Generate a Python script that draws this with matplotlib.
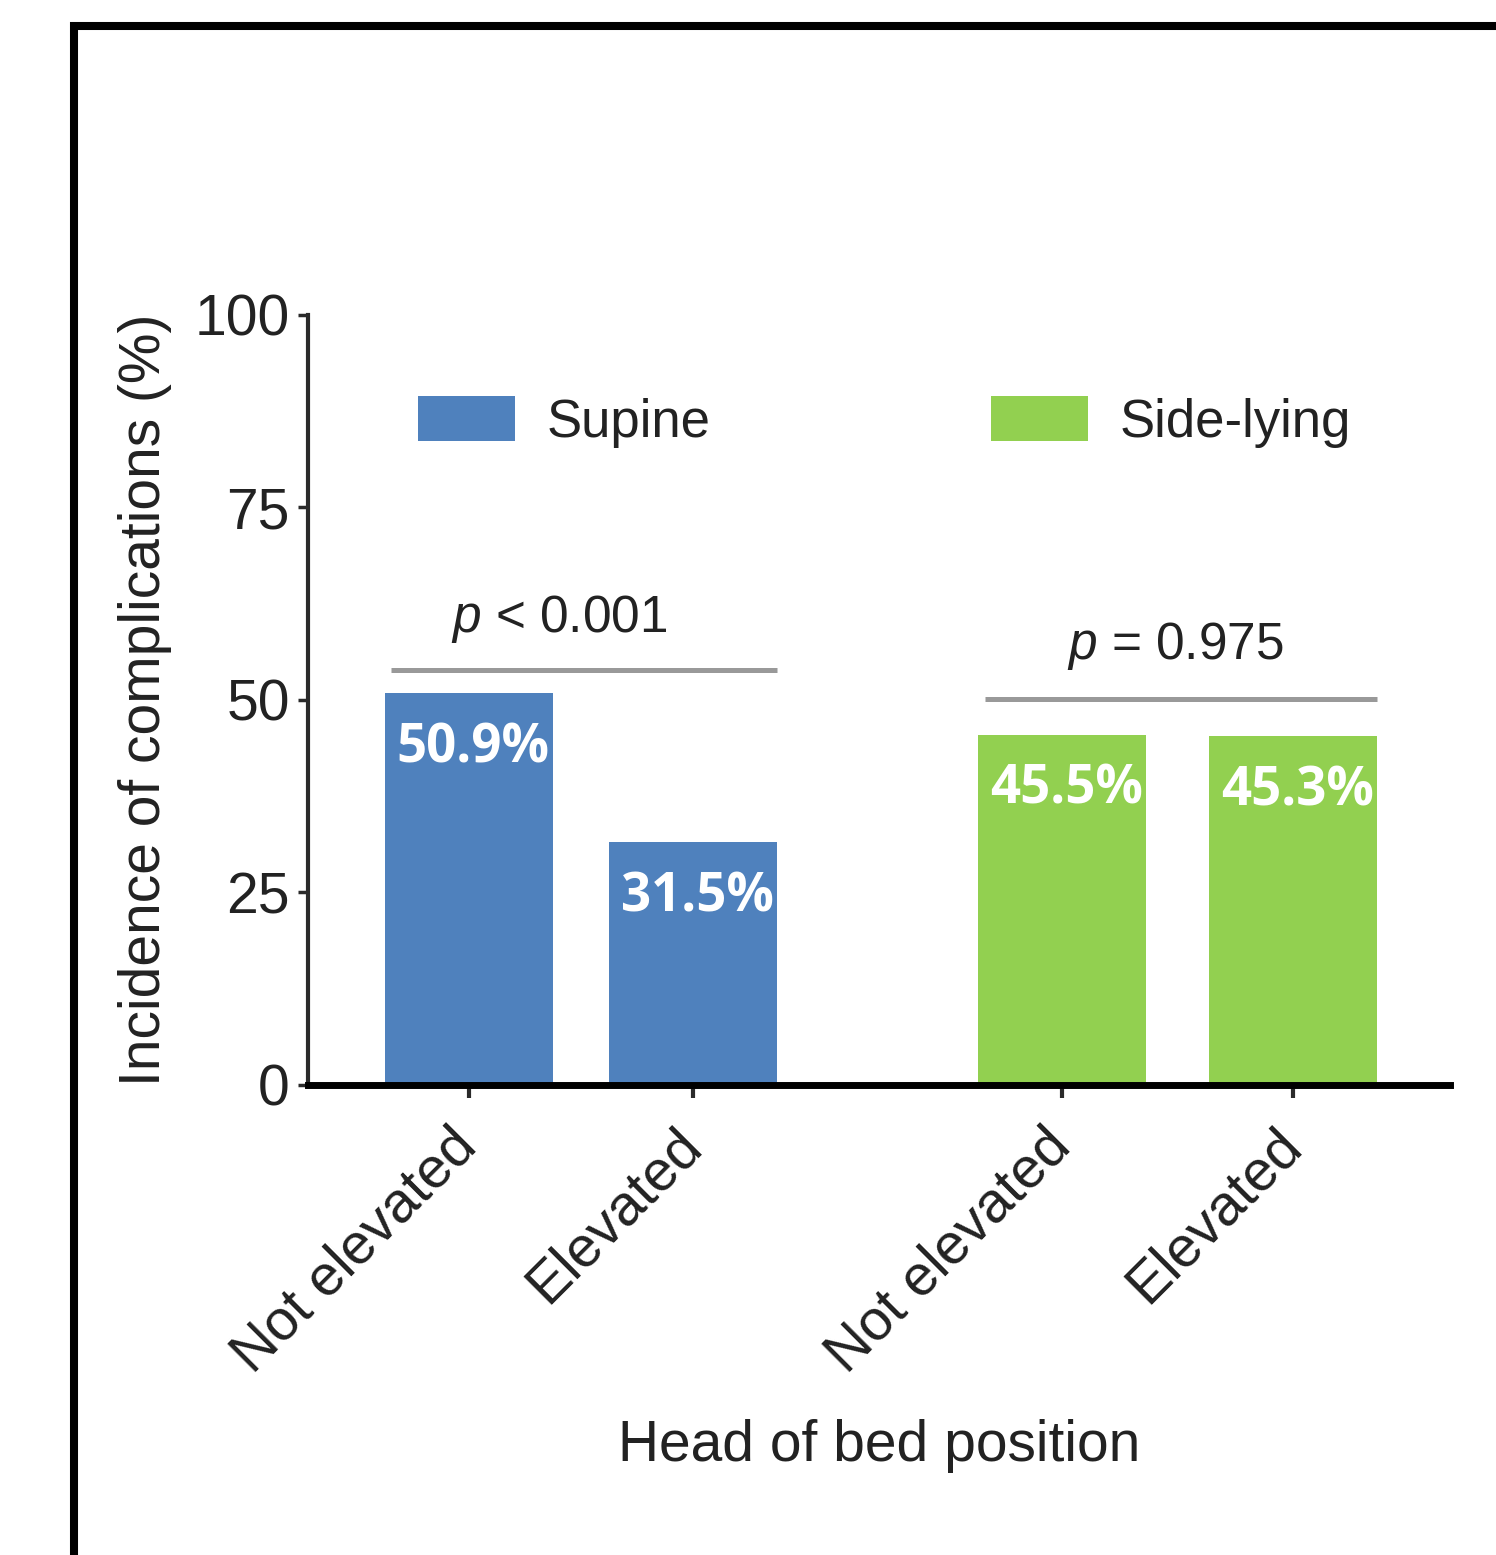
import matplotlib
matplotlib.use("Agg")
import matplotlib.pyplot as plt
from matplotlib.lines import Line2D

plt.rcParams['font.family'] = ['Liberation Sans', 'DejaVu Sans']
plt.rcParams['mathtext.fontset'] = 'custom'
plt.rcParams['mathtext.it'] = 'Liberation Sans:italic'
plt.rcParams['mathtext.rm'] = 'Liberation Sans'

# data
groups = ['Supine', 'Side-lying']
categories = ['Not elevated', 'Elevated', 'Not elevated', 'Elevated']
values = [50.9, 31.5, 45.5, 45.3]
value_labels = ['50.9%', '31.5%', '45.5%', '45.3%']
p_texts = ['$p$ < 0.001', '$p$ = 0.975']
yticks = [0, 25, 50, 75, 100]

positions = [0, 1, 2.65, 3.68]
colors = ['#4F81BD', '#4F81BD', '#92D050', '#92D050']
width = 0.75

fig = plt.figure(figsize=(14.96, 15.55), dpi=100)
ax = fig.add_axes([0.2059, 0.3023, 0.7634, 0.4952])

bars = ax.bar(positions, values, width=width, color=colors, edgecolor='none')

for x, v, lab in zip(positions, values, value_labels):
    ax.text(x + 0.02, v - 7.2, lab, ha='center', va='center', color='white',
            fontsize=38, fontweight='bold', family='Open Sans')

# significance brackets
sig_y = [53.9, 50.1]
txt_y = [58.8, 55.3]
txt_dx = [-0.095, -0.012]
for g in range(2):
    x0 = positions[2 * g] - width / 2
    x1 = positions[2 * g + 1] + width / 2
    ax.plot([x0 + 0.03, x1], [sig_y[g], sig_y[g]], color='#999999', lw=3.6,
            solid_capstyle='butt')
    ax.text((x0 + x1) / 2 + txt_dx[g], txt_y[g], p_texts[g], ha='center',
            va='baseline', fontsize=37, color='#222222')

ax.set_xlim(-0.717, 4.38)
ax.set_ylim(0, 100)
ax.set_yticks(yticks)
ax.set_xticks(positions)
ax.set_xticklabels(categories, rotation=45, ha='right', va='center',
                   rotation_mode='anchor')

ax.spines['top'].set_visible(False)
ax.spines['right'].set_visible(False)
ax.spines['left'].set_linewidth(3)
ax.spines['left'].set_color('#2a2a2a')
ax.spines['bottom'].set_linewidth(5)
ax.spines['bottom'].set_color('black')
ax.spines['bottom'].set_zorder(5)

ax.tick_params(axis='y', length=7, width=2.5, color='#2a2a2a', labelsize=41,
               labelcolor='#222222', pad=6)
ax.tick_params(axis='x', length=9, width=3, color='#2a2a2a', labelsize=41,
               labelcolor='#222222', pad=29)

ax.set_ylabel('Incidence of complications (%)', fontsize=41, color='#222222',
              labelpad=16)
ax.set_xlabel('Head of bed position', fontsize=41, color='#222222', labelpad=26)

leg = ax.legend([bars[0], bars[2]], groups, ncol=2, frameon=False,
                loc='center left', bbox_to_anchor=(418 / 1496, 1 - 422 / 1555),
                bbox_transform=fig.transFigure, borderpad=0, borderaxespad=0,
                fontsize=38, handlelength=1.84, handleheight=0.91,
                handletextpad=0.6, columnspacing=5.3)
for t in leg.get_texts():
    t.set_color('#222222')

# outer frame (left and top edges only visible)
fx = 74 / 1496
fy = 1 - 26 / 1555
fig.add_artist(Line2D([fx, fx, 1.01], [-0.01, fy, fy], transform=fig.transFigure,
                      color='black', lw=5.8, solid_joinstyle='miter'))

fig.savefig('out.png', dpi=100)
